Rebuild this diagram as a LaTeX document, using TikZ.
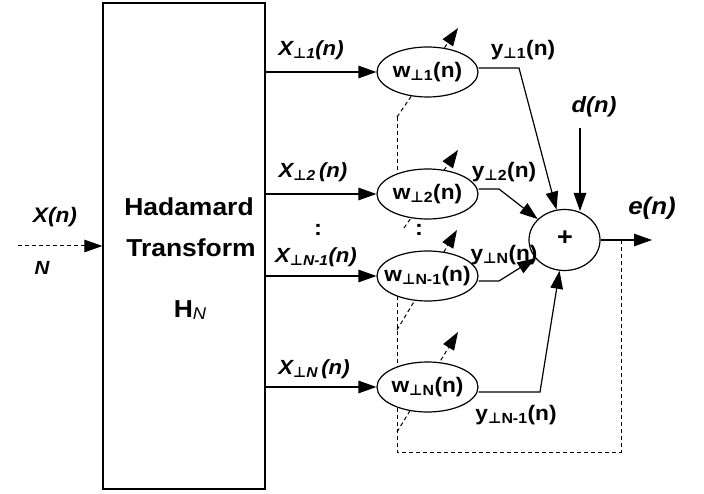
\documentclass[tikz,border=0pt]{standalone}
\usepackage{fontspec}
\setmainfont[FakeStretch=1.08]{Liberation Sans}
\newfontfamily\dvs{DejaVu Sans}
\usetikzlibrary{shapes.geometric,arrows.meta,backgrounds}
\newcommand\pp{{\dvs ⊥}}
\newcommand\fs[1]{\fontsize{#1}{#1}\selectfont}
\begin{document}
\begin{tikzpicture}[x=1pt,y=-1pt,line width=1.2pt,
  >={Triangle[length=18pt,width=12.5pt]},
  wnode/.style={draw,fill=white,ellipse,minimum width=101pt,minimum height=50pt,inner sep=0pt},
  lbl/.style={inner sep=0pt,font=\fs{21}\bfseries},
  xlbl/.style={inner sep=0pt,font=\fs{20.5}\bfseries\itshape},
  dsh/.style={line width=1pt,dash pattern=on 4pt off 3pt}]
\useasboundingbox (0,0) rectangle (704,494);
% Hadamard block
\node[draw,minimum width=162pt,minimum height=486pt,inner sep=0pt] (H) at (184,246) {};
\node[lbl,font=\fs{24.5}\bfseries] (t1) at (189,207) {Hadamard};
\node[lbl,font=\fs{24.5}\bfseries] (t2) at (191,248) {Transform};
\node[lbl,font=\fs{24.5}\bfseries] (t3) at (190,310) {H\raisebox{-2pt}{\fs{17}\mdseries\itshape N}};
% input
\coordinate (in) at (18,246);
\draw[dsh,->] (in) -- (in -| H.west);
\node[xlbl,font=\fs{21}\bfseries\itshape] (xn) at (55,217) {X(n)};
\node[xlbl,font=\fs{19}\bfseries\itshape] (nn) at (42,268) {N};
% weights
\node[wnode] (w1) at (427.5,72) {};
\node[wnode] (w2) at (427.5,194) {};
\node[wnode] (w3) at (427.5,276) {};
\node[wnode] (w4) at (427.5,387) {};
\node[lbl] (lw1) at (w1.center) {w\textsubscript{\pp1}(n)};
\node[lbl] (lw2) at (w2.center) {w\textsubscript{\pp2}(n)};
\node[lbl] (lw3) at (w3.center) {w\textsubscript{\pp N-1}(n)};
\node[lbl] (lw4) at (w4.center) {w\textsubscript{\pp N}(n)};
% sum
\node[draw,fill=white,ellipse,minimum width=71pt,minimum height=61pt,inner sep=0pt] (sum) at (564.5,240) {};
\node[lbl,font=\fs{25}\bfseries] (plus) at (565,238) {+};
% branch arrows
\draw[->] (w1.west -| H.east) -- (w1.west);
\draw[->] (w2.west -| H.east) -- (w2.west);
\draw[->] (w3.west -| H.east) -- (w3.west);
\draw[->] (w4.west -| H.east) -- (w4.west);
\node[xlbl] (x1) at (311,50) {X\textsubscript{\pp1}(n)};
\node[xlbl] (x2) at (313,172) {X\textsubscript{\pp2}\,(n)};
\node[xlbl] (x3) at (316,257) {X\textsubscript{\pp N-1}(n)};
\node[xlbl] (x4) at (314,369) {X\textsubscript{\pp N}\,(n)};
\node[lbl,font=\fs{22}\bfseries] (c1) at (318,230) {:};
\node[lbl,font=\fs{22}\bfseries] (c2) at (419,230) {:};
% outputs
\coordinate (b1) at (519,68);
\coordinate (b2) at (499,189);
\coordinate (b3) at (499,281);
\coordinate (b4) at (540,392);
\draw[->] ([yshift=4pt]w1.east) -- (b1) -- (sum);
\draw[->] ([yshift=5pt]w2.east) -- (b2) -- (sum);
\draw[->] ([yshift=-5pt]w3.east) -- (b3) -- (sum);
\draw[->] ([yshift=-5pt]w4.east) -- (b4) -- (sum);
\node[lbl] (y1) at (523,50) {y\textsubscript{\pp1}(n)};
\node[lbl] (y2) at (504,172) {y\textsubscript{\pp2}(n)};
\node[lbl] (y3) at (504,255) {y\textsubscript{\pp N}(n)};
\node[lbl] (y4) at (516,415) {y\textsubscript{\pp N-1}(n)};
% desired and error
\coordinate (dtop) at (580,128);
\draw[->] (dtop) -- (580,211);
\node[xlbl,font=\fs{22}\bfseries\itshape] (dn) at (594,107) {d(n)};
\coordinate (eout) at (652,240);
\draw[->] (sum.east) -- (eout);
\node[xlbl,font=\fs{24}\bfseries\itshape] (en) at (652,208) {e(n)};
% feedback and adaptation (behind)
\coordinate (f1) at (621,240);
\coordinate (f2) at (621,452);
\coordinate (f3) at (397,452);
\begin{pgfonlayer}{background}
\draw[dsh] (f1) -- (f2) -- (f3) -- (397,276);
\draw[dsh] (397,117) -- (397,195);
\draw[dsh,->] (397,117) -- (458,28);
\draw[dsh,->] (404,228) -- (458,150);
\draw[dsh,->] (397,330) -- (457,230);
\draw[dsh,->] (397,432) -- (458,332);
\end{pgfonlayer}
\end{tikzpicture}
\end{document}
